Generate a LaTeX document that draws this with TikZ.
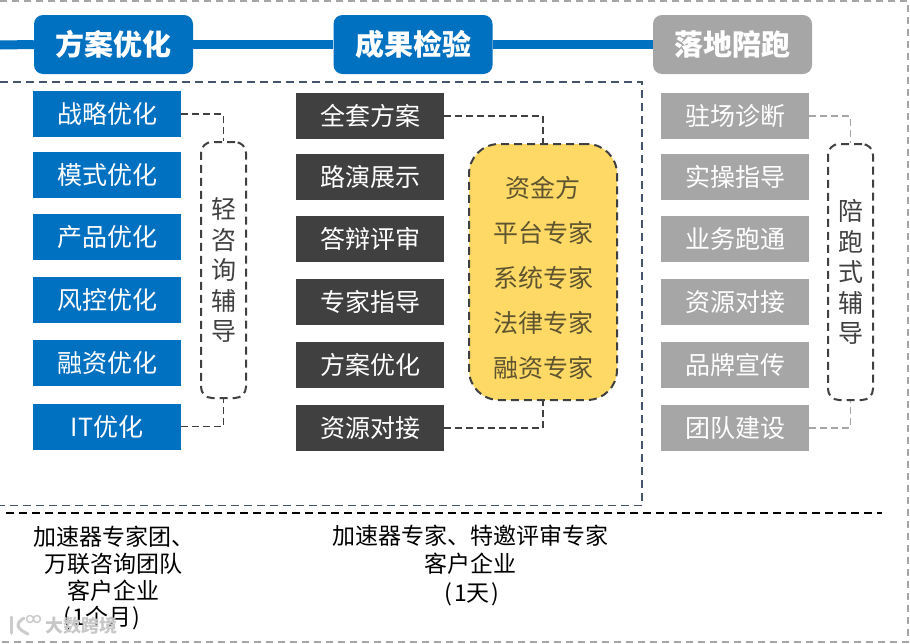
\documentclass[tikz,border=0pt]{standalone}
\usepackage{fontspec}
\setmainfont{Noto Sans CJK SC}
\newcommand{\fs}[1]{\fontsize{#1}{#1}\selectfont}
\definecolor{cblue}{HTML}{0070C0}
\definecolor{cdark}{HTML}{404040}
\definecolor{cgray}{HTML}{A6A6A6}
\definecolor{cyel}{HTML}{FFD966}
\definecolor{cnavy}{HTML}{44546A}
\definecolor{cbrown}{HTML}{5F5430}
\tikzset{
 x=1pt,y=-1pt,
 header/.style={rounded corners=9pt,text=white,font=\fs{29}\bfseries,minimum width=159pt,minimum height=59pt,inner sep=0pt},
 itembox/.style={text=white,font=\fs{25},minimum width=148pt,minimum height=46pt,inner sep=0pt},
 bracketbox/.style={draw=cdark,line width=2pt,dash pattern=on 8pt off 5pt,rounded corners=11pt,minimum width=45pt,minimum height=256pt,inner sep=0pt,align=center,text=cdark,font=\fontsize{25}{30.5}\selectfont},
 yellowbox/.style={draw=cdark,fill=cyel,line width=2pt,dash pattern=on 8pt off 5pt,rounded corners=30pt,minimum width=148pt,minimum height=256pt,inner sep=0pt},
 yellowtext/.style={inner sep=0pt,align=center,text=cbrown,font=\fontsize{25}{45}\selectfont},
 dlink/.style={draw=cdark,line width=1.8pt,dash pattern=on 7pt off 4pt},
 glink/.style={draw=cgray,line width=1.8pt,dash pattern=on 7pt off 4pt},
 frameg/.style={draw=cgray,line width=2pt,dash pattern=on 7pt off 5pt},
 framen/.style={draw=cnavy,line width=1.8pt,dash pattern=on 8pt off 5pt},
 frameb/.style={draw=black,line width=1.8pt,dash pattern=on 8pt off 5pt},
 note/.style={inner sep=0pt,text=black,font=\fs{23}},
 wmark/.style={draw=black!20,line width=3pt,line cap=round},
}
\begin{document}
\begin{tikzpicture}
\useasboundingbox (0,0) rectangle (910,643);
% outer frame
\draw[frameg] (0,1) -- (908,1) -- (908,642) -- (0,642);
% inner frames
\draw[framen] (0,82) -- (642,82) -- (642,505.5) -- (0,505.5);
\coordinate (bl) at (6,513); \coordinate (br) at (882,513);
\draw[frameb] (bl) -- (br);
% headers
\coordinate (linestart) at (0,45);
\node[header,fill=cblue] (h1) at (113.5,44.5) {方案优化};
\node[header,fill=cblue] (h2) at (413,44.5) {成果检验};
\node[header,fill=cgray] (h3) at (732.5,44.5) {落地陪跑};
\draw[cblue,line width=9pt] (linestart) -- (h1.west);
\draw[cblue,line width=9pt] (h1.east) -- (h2.west);
\draw[cblue,line width=9pt] (h2.east) -- (h3.west);
% left column
\foreach \n/\y/\t in {a1/114/战略优化,a2/175/模式优化,a3/237/产品优化,a4/300/风控优化,a5/363/融资优化,a6/426.5/IT优化}
  \node[itembox,fill=cblue] (\n) at (107,\y) {\t};
% middle column
\foreach \n/\y/\t in {b1/116/全套方案,b2/177/路演展示,b3/239/答辩评审,b4/302/专家指导,b5/365/方案优化,b6/428/资源对接}
  \node[itembox,fill=cdark] (\n) at (370,\y) {\t};
% right column
\foreach \n/\y/\t in {c1/116/驻场诊断,c2/177/实操指导,c3/239/业务跑通,c4/302/资源对接,c5/365/品牌宣传,c6/428/团队建设}
  \node[itembox,fill=cgray] (\n) at (735,\y) {\t};
% brackets
\node[bracketbox] (k1) at (223.5,270) {轻\\咨\\询\\辅\\导};
\node[bracketbox] (k3) at (850.5,272) {陪\\跑\\式\\辅\\导};
\node[yellowbox] (k2) at (543,272) {};
\node[yellowtext] (k2t) at (543,277.5) {资金方\\平台专家\\系统专家\\法律专家\\融资专家};
% connectors
\draw[dlink] (a1.east) -| (k1.north);
\draw[dlink] (a6.east) -| (k1.south);
\draw[dlink] (b1.east) -| (k2.north);
\draw[dlink] (b6.east) -| (k2.south);
\draw[glink] (c1.east) -| (k3.north);
\draw[glink] (c6.east) -| (k3.south);
% notes
\node[note] (n1) at (113.5,537) {加速器专家团、};
\node[note] (n2) at (113.5,564) {万联咨询团队};
\node[note] (n3) at (113.5,591) {客户企业};
\node[note] (n4) at (102,618) {(\kern1pt 1个月\kern1pt)};
\node[note] (m1) at (470,536) {加速器专家、特邀评审专家};
\node[note] (m2) at (470.5,564) {客户企业};
\node[note] (m3) at (472,594) {(\kern2pt 1天\kern2pt)};
% watermark
\draw[wmark] (11,617) -- (11,633);
\draw[wmark] (24,618) .. controls (16,623) and (15,628) .. (28,634);
\draw[draw=black!20,line width=1.5pt] (30,619) circle[radius=3.5pt] (37,619) circle[radius=3.5pt];
\node[inner sep=0pt,text=black!22,font=\fs{18}\bfseries] (wm) at (81,625.5) {大数跨境};
\end{tikzpicture}
\end{document}
